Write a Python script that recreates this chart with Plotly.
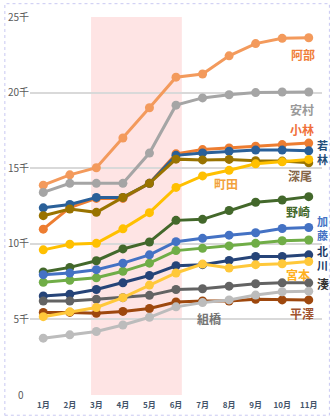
import plotly.graph_objects as go

months = ["1月", "2月", "3月", "4月", "5月", "6月", "7月", "8月", "9月", "10月", "11月"]

abe      = [13.88, 14.56, 15.03, 17.0, 19.0, 21.02, 21.23, 22.43, 23.24, 23.59, 23.63]
yasumura = [13.4, 14.0, 14.0, 14.0, 16.0, 19.17, 19.65, 19.86, 20.0, 20.04, 20.04]
kobayashi= [10.97, 12.4, 13.0, 13.0, 14.0, 15.95, 16.23, 16.34, 16.45, 16.56, 16.66]
wakabayashi=[12.38, 12.6, 13.07, 13.07, 14.0, 15.85, 16.01, 16.12, 16.2, 16.2, 16.15]
fukao    = [11.86, 12.3, 12.08, 13.07, 14.0, 15.6, 15.55, 15.58, 15.5, 15.47, 15.36]
machida  = [9.6, 9.97, 10.03, 10.99, 12.06, 13.73, 14.49, 14.86, 15.29, 15.42, 15.58]
nozaki   = [8.14, 8.44, 8.88, 9.66, 10.12, 11.55, 11.62, 12.2, 12.75, 12.9, 13.12]
green    = [7.46, 7.59, 7.75, 8.18, 8.72, 9.55, 9.7, 9.86, 10.03, 10.2, 10.25]
kato     = [7.96, 8.07, 8.29, 8.72, 9.27, 10.14, 10.36, 10.57, 10.73, 11.01, 11.08]
kitagawa = [6.55, 6.66, 6.98, 7.42, 7.9, 8.55, 8.62, 8.9, 9.16, 9.16, 9.27]
minato   = [6.22, 6.22, 6.33, 6.44, 6.59, 6.98, 7.03, 7.2, 7.36, 7.42, 7.42]
hirasawa = [5.46, 5.46, 5.4, 5.53, 5.72, 6.15, 6.22, 6.22, 6.33, 6.29, 6.29]
miyamoto = [5.18, 5.5, 5.79, 6.44, 7.27, 8.07, 8.66, 8.4, 8.62, 8.68, 8.83]
kumihashi= [3.76, 3.98, 4.2, 4.63, 5.14, 5.83, 6.11, 6.29, 6.61, 6.83, 6.87]

series = [
    ("阿部", abe, "#f39a5c"),
    ("安村", yasumura, "#a5a5a5"),
    ("小林", kobayashi, "#ed7d31"),
    ("若林", wakabayashi, "#2a6099"),
    ("深尾", fukao, "#997300"),
    ("町田", machida, "#ffc000"),
    ("野崎", nozaki, "#43682b"),
    ("series", green, "#70ad47"),
    ("加藤", kato, "#4472c4"),
    ("北川", kitagawa, "#264478"),
    ("湊", minato, "#636363"),
    ("平澤", hirasawa, "#9e480e"),
    ("宮本", miyamoto, "#ffc83a"),
    ("組橋", kumihashi, "#bcbcbc"),
]

yticks = [0, 5000, 10000, 15000, 20000, 25000]
yticktext = ["0\u2007", "5千", "10千", "15千", "20千", "25千"]

W, H = 330, 418
ML, MR, MT, MB = 26, 8, 14, 21
PW, PH = W - ML - MR, H - MT - MB

def px(x):
    return (x - ML) / PW

def py(y):
    return (H - MB - y) / PH

fig = go.Figure()
for name, vals, col in series:
    fig.add_trace(go.Scatter(
        x=months, y=[v * 1000 for v in vals], name=name, mode="lines+markers",
        line=dict(color=col, width=3), marker=dict(color=col, size=9),
        showlegend=False, cliponaxis=False))

# shaded period
fig.add_shape(type="rect", xref="x", yref="y", x0=1.8, x1=5.22, y0=0, y1=25000,
              fillcolor="#fee4e4", line_width=0, layer="below")

fnt = "Noto Sans CJK JP"
labels = [
    ("阿部", 302.7, 51.7, "#f07f3a", 12),
    ("安村", 302, 108, "#999999", 12),
    ("小林", 302, 128.3, "#f0703a", 12),
    ("若<br>林", 323, 151, "#1f4e79", 11),
    ("深尾", 300, 175, "#86664a", 12),
    ("町田", 224.3, 182.7, "#f2a23c", 12),
    ("野崎", 298, 211, "#43682b", 12),
    ("加<br>藤", 323, 228, "#4472c4", 11),
    ("北<br>川", 323, 258, "#203864", 11),
    ("宮本", 297.7, 275, "#ffb020", 12),
    ("湊", 323.5, 284, "#333333", 12),
    ("組橋", 207.3, 319, "#757575", 12),
    ("平澤", 301.7, 314.3, "#a0522d", 12),
]
for t, x, y, c, s in labels:
    fig.add_annotation(text=t, xref="paper", yref="paper", x=px(x), y=py(y),
                       xanchor="center", yanchor="middle", showarrow=False,
                       font=dict(family=fnt, size=s, color=c, weight="bold"))

# dotted outer border
fig.add_shape(type="rect", xref="paper", yref="paper",
              x0=px(0.5), x1=px(329.5), y0=py(417.5), y1=py(0.5),
              line=dict(color="#c9c9f2", width=1, dash="dot"), layer="above")

fig.update_layout(
    width=W, height=H, margin=dict(l=ML, r=MR, t=MT, b=MB),
    plot_bgcolor="white", paper_bgcolor="white",
    font=dict(family=fnt),
)
fig.update_xaxes(type="category", range=[-0.5, 10.5], showgrid=False, zeroline=False,
                 showline=False, ticks="", ticklabelstandoff=4,
                 tickfont=dict(family=fnt, size=8, color="#44546a", weight="bold"))
fig.update_yaxes(range=[0, 25000], tickvals=yticks, ticktext=yticktext,
                 showgrid=True, gridcolor="#d9d9d9", gridwidth=2, zeroline=False,
                 showline=False, ticks="",
                 tickfont=dict(family=fnt, size=10, color="#595959"))

fig.write_html("out.html")
